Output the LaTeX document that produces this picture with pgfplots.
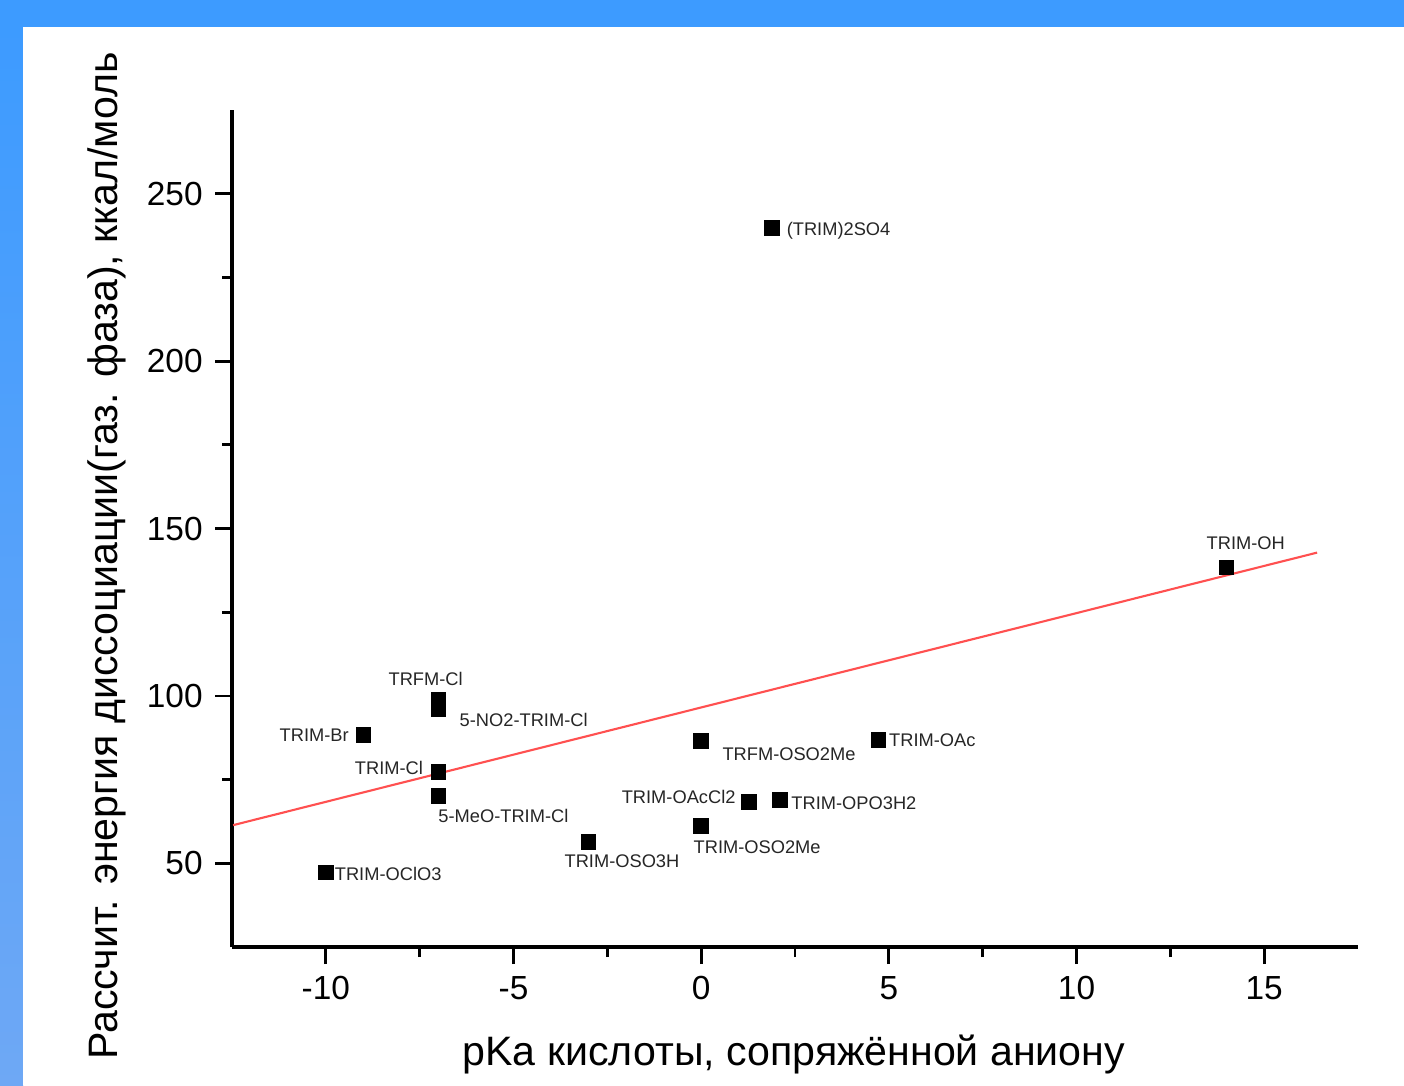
\documentclass[border=0pt]{standalone}
\usepackage{pgfplots}
\pgfplotsset{compat=1.18}
\usepackage{fontspec}
\setmainfont{Liberation Sans}
\definecolor{bgblue}{RGB}{61,155,255}
\definecolor{bgblue2}{RGB}{110,168,245}
\definecolor{fitred}{RGB}{255,80,80}
\begin{document}
\begin{tikzpicture}
\useasboundingbox (0,0) rectangle (140.4mm,108.5mm);
\fill[bgblue] (0,0) rectangle (140.4mm,108.5mm);
\shade[top color=bgblue, bottom color=bgblue2] (0,0) rectangle (2.3mm,105.8mm);
\fill[white] (2.3mm,0) rectangle (140.4mm,105.8mm);
\begin{axis}[
  at={(23.2mm,13.8mm)}, anchor=south west,
  scale only axis, width=112.6mm, height=83.7mm,
  xmin=-12.5, xmax=17.5, ymin=25, ymax=275,
  axis lines*=left,
  axis line style={line width=0.9pt},
  tick align=outside,
  major tick length=1.7mm, minor tick length=1.0mm,
  every tick/.style={black, line width=0.8pt},
  xtick={-10,-5,0,5,10,15},
  xticklabels={-10,-5,0,5,10,15},
  ytick={50,100,150,200,250},
  yticklabels={50,100,150,200,250},
  minor x tick num=1, minor y tick num=1,
  tick label style={font=\fontsize{9.5}{11}\selectfont},
  xlabel={pKa кислоты, сопряжённой аниону},
  ylabel={Рассчит. энергия диссоциации(газ. фаза), ккал/моль},
  every axis x label/.style={at={(axis description cs:0.499,-0.129)}, anchor=center, font=\fontsize{11.7}{14}\selectfont},
  every axis y label/.style={at={(axis description cs:-0.111,0.467)}, rotate=90, anchor=center, font=\fontsize{11.7}{14}\selectfont},
  clip=false,
]
\addplot[only marks, mark=square*, mark size=2pt, black] coordinates {
 (-10,47.3) (-9,88.3) (-7,98.8) (-7,96.1) (-7,77.3) (-7,70.1)
 (-3,56.3) (0,86.6) (0,61.1) (1.28,68.3) (2.1,68.9) (4.73,86.9)
 (1.89,239.8) (14,138.3)
};
\addplot[fitred, line width=0.6pt] coordinates {(-12.47,61.4) (16.41,142.8)};
\begin{scope}[every node/.style={font=\fontsize{5.2}{6}\selectfont, inner sep=0pt, text=black!85}]
\node at (axis cs:-8.34,46.8) {TRIM-OClO3};
\node at (axis cs:-10.31,88.3) {TRIM-Br};
\node at (axis cs:-7.34,105.1) {TRFM-Cl};
\node at (axis cs:-4.73,92.8) {5-NO2-TRIM-Cl};
\node at (axis cs:-8.32,78.5) {TRIM-Cl};
\node at (axis cs:-5.27,64.1) {5-MeO-TRIM-Cl};
\node at (axis cs:-2.11,50.7) {TRIM-OSO3H};
\node at (axis cs:2.34,82.7) {TRFM-OSO2Me};
\node at (axis cs:1.49,54.9) {TRIM-OSO2Me};
\node at (axis cs:-0.60,69.8) {TRIM-OAcCl2};
\node at (axis cs:4.07,68.0) {TRIM-OPO3H2};
\node at (axis cs:6.16,86.8) {TRIM-OAc};
\node at (axis cs:3.66,239.0) {(TRIM)2SO4};
\node at (axis cs:14.51,145.7) {TRIM-OH};
\end{scope}
\end{axis}
\end{tikzpicture}
\end{document}
